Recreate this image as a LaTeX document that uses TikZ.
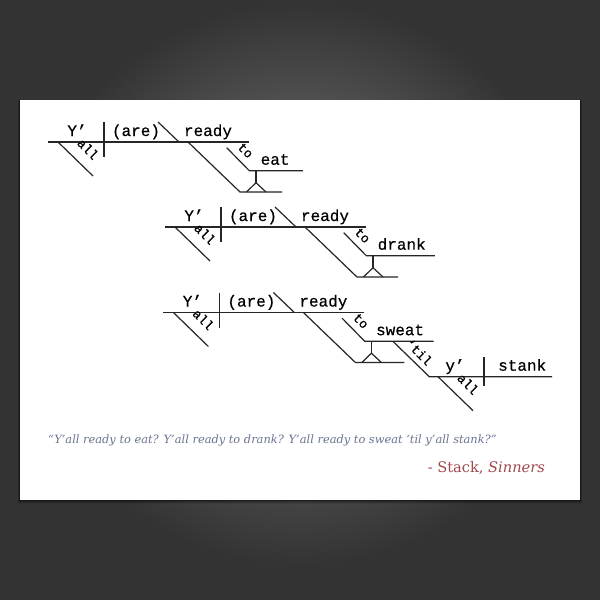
\documentclass[tikz,border=0pt]{standalone}
\usepackage{fontspec}
\setmainfont{DejaVu Serif}
\newfontfamily\diagfont[FakeBold=0.4]{Liberation Mono}
\usetikzlibrary{positioning}

\definecolor{backdrop}{HTML}{333333}
\definecolor{glowmid}{HTML}{525252}
\definecolor{glowin}{HTML}{5C5C5C}
\definecolor{quoteblue}{HTML}{6A7391}
\definecolor{sourcered}{HTML}{A0484C}

\pgfdeclareradialshading{backglow}{\pgfpoint{0bp}{2.5bp}}{%
  color(0bp)=(glowin); color(14bp)=(glowmid); color(23.5bp)=(backdrop); color(50bp)=(backdrop)}

\begin{document}
\begin{tikzpicture}[
  x=1pt, y=-1pt,
  diagline/.style = {line width=1.2pt, black!85},
  word/.style = {font=\diagfont\fontsize{16}{18}\selectfont, inner sep=0pt, anchor=base},
  slantword/.style = {font=\diagfont\fontsize{13}{15}\selectfont, rotate=-45, inner sep=0pt}
]

  % backdrop and card
  \useasboundingbox (0,0) rectangle (600,600);
  \shade[shading=backglow] (0,0) rectangle (600,600);
  \foreach \s/\o in {4/0.08, 3/0.12, 2/0.18, 1/0.3}
    \fill[black, opacity=\o] (20-\s*0.6,100+\s*0.3) rectangle (580+\s*0.6,500+\s);
  \fill[white] (20,100) rectangle (580,500);

  % Y'all (are) ready to <verb>
  \foreach \i/\sx/\sy/\verbword/\vlen/\blen in
      {1/48/142/eat/53.5/42, 2/165/227/drank/68.5/41, 3/163.4/312.5/sweat/69/49}{
    \begin{scope}[shift={(\sx,\sy)}]
      % baseline with subject | verb \ complement
      \coordinate (bl\i) at (0,0);
      \coordinate (br\i) at (201,0);
      \coordinate (dt\i) at (56,-20);
      \coordinate (db\i) at (56,15);
      \coordinate (ct\i) at (110,-20);
      \coordinate (cb\i) at (131,0);
      \draw[diagline] (bl\i) -- (br\i);
      \draw[diagline] (dt\i) -- (db\i);
      \draw[diagline] (ct\i) -- (cb\i);
      \node[word] (subj\i) at (29,-6) {Y’};
      \node[word] (verb\i) at (88,-6) {(are)};
      \node[word] (comp\i) at (160,-6) {ready};

      % modifier under the subject
      \coordinate (mt\i) at (10,0);
      \coordinate (mb\i) at (45,34);
      \draw[diagline] (mt\i) -- (mb\i);
      \node[slantword] (mod\i) at (40,7) {all};

      % infinitive on a stilt
      \coordinate (it\i) at (140,0);
      \coordinate (ib\i) at (192,50);
      \coordinate (ie\i) at (192+\blen,50);
      \coordinate (sl\i) at (198.5,50);
      \coordinate (sr\i) at (218,50);
      \coordinate (sa\i) at (208,40.7);
      \coordinate (st\i) at (208,28.7);
      \draw[diagline] (it\i) -- (ib\i) -- (ie\i);
      \draw[diagline] (st\i) -- (sa\i);
      \draw[diagline] (sl\i) -- (sa\i) -- (sr\i);

      \coordinate (tt\i) at (178.7,5.7);
      \coordinate (tb\i) at (201.3,28.7);
      \coordinate (te\i) at (201.3+\vlen,28.7);
      \draw[diagline] (tt\i) -- (tb\i) -- (te\i);
      \node[slantword] (to\i) at (197.5,8.5) {to};
      \node[word, anchor=base west] (inf\i) at (212.5,22.7) {\verbword};
    \end{scope}
  }

  % 'til y'all stank
  \coordinate (tilt) at (393.3,341.7);
  \coordinate (tilb) at (429.3,376.7);
  \coordinate (fe) at (552,376.7);
  \coordinate (fdt) at (484,357);
  \coordinate (fdb) at (484,386);
  \coordinate (fmt) at (438,376.7);
  \coordinate (fmb) at (473,410.7);
  \draw[diagline] (tilt) -- (tilb) -- (fe);
  \draw[diagline] (fdt) -- (fdb);
  \draw[diagline] (fmt) -- (fmb);
  \node[slantword] (til) at (419,352) {‘til};
  \node[slantword] (mod4) at (468,384) {all};
  \node[word] (subj4) at (455,370.7) {y’};
  \node[word, anchor=base west] (verb4) at (498,370.7) {stank};

  % quote and source
  \node[anchor=west, inner sep=0pt, text=quoteblue,
        font=\itshape\fontsize{11.4}{13}\selectfont] (quote) at (48,440)
    {“Y’all ready to eat? Y’all ready to drank? Y’all ready to sweat ‘til y’all stank?”};
  \node[anchor=east, inner sep=0pt, text=sourcered,
        font=\fontsize{14.6}{17}\selectfont] (source) at (545,468)
    {- Stack, \textit{Sinners}};

\end{tikzpicture}
\end{document}
